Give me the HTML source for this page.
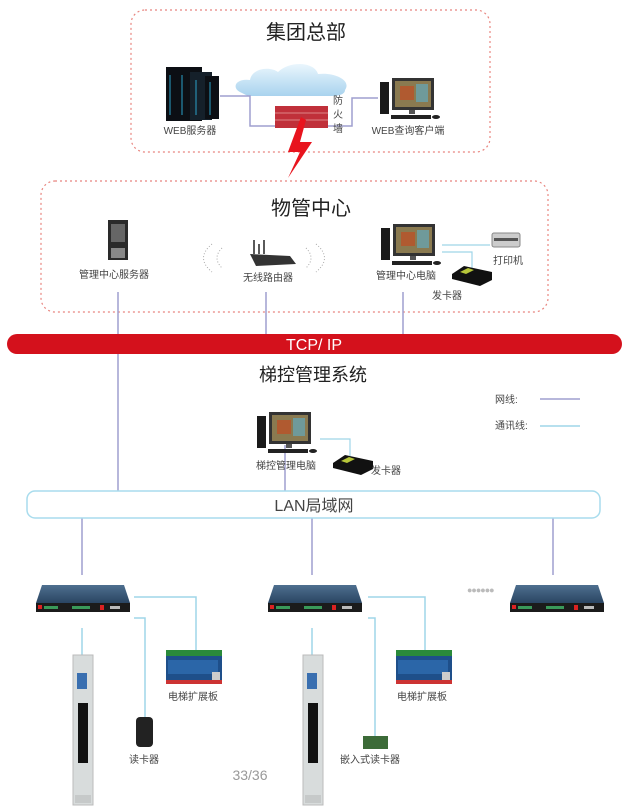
<!DOCTYPE html>
<html><head><meta charset="utf-8"><style>
html,body{margin:0;padding:0;background:#fff;}
svg{display:block;font-family:"Liberation Sans","Noto Sans CJK SC",sans-serif;}
</style></head><body>
<svg width="631" height="812" viewBox="0 0 631 812" xmlns="http://www.w3.org/2000/svg">
<defs>
<linearGradient id="cl" x1="0" y1="0" x2="0" y2="1"><stop offset="0" stop-color="#eaf6fd"/><stop offset="1" stop-color="#a9d3ee"/></linearGradient>
<linearGradient id="ctrl" x1="0" y1="0" x2="0" y2="1"><stop offset="0" stop-color="#4e6f8f"/><stop offset="1" stop-color="#2a4562"/></linearGradient>
<g id="pc">
<rect x="0" y="4" width="9" height="32" fill="#1a1a1a"/>
<rect x="12" y="0" width="42" height="32" fill="#333"/>
<rect x="15" y="3" width="36" height="26" fill="#8a7a50"/>
<rect x="20" y="8" width="14" height="14" fill="#b05a30"/>
<rect x="36" y="6" width="12" height="18" fill="#6f9a9a"/>
<rect x="29" y="32" width="6" height="4" fill="#555"/>
<rect x="11" y="37" width="40" height="4" fill="#222"/>
<ellipse cx="56" cy="39" rx="4" ry="2" fill="#222"/>
</g>
<g id="card">
<polygon points="0,8 12,0 40,6 40,14 28,20 0,13" fill="#111"/>
<polygon points="8,6 16,2 22,4 14,8" fill="#b7c63a"/>
</g>
<g id="ctl">
<polygon points="6,0 88,0 94,18 0,18" fill="url(#ctrl)"/>
<rect x="0" y="18" width="94" height="9" fill="#1b1b1b"/>
<rect x="8" y="21" width="14" height="3" fill="#3a9a5a"/>
<rect x="36" y="21" width="18" height="3" fill="#3a9a5a"/>
<rect x="64" y="20" width="4" height="5" fill="#d22"/>
<rect x="2" y="20" width="4" height="4" fill="#d22"/>
<rect x="74" y="21" width="10" height="3" fill="#bbb"/>
</g>
<g id="board">
<rect x="0" y="0" width="56" height="34" fill="#1e4f8a"/>
<rect x="0" y="0" width="56" height="6" fill="#2a8a3a"/>
<rect x="2" y="10" width="50" height="14" fill="#2b66a8"/>
<rect x="0" y="30" width="56" height="4" fill="#c33"/>
<rect x="46" y="22" width="8" height="8" fill="#ccc"/>
</g>
<g id="panel">
<rect x="0" y="0" width="20" height="150" fill="#d8dcdc" stroke="#bbb"/>
<rect x="4" y="18" width="10" height="16" fill="#3a6fb0"/>
<rect x="5" y="48" width="10" height="60" fill="#111"/>
<rect x="2" y="140" width="16" height="8" fill="#c6c9c9"/>
</g>
</defs>

<rect x="131" y="10" width="359" height="142" rx="14" fill="none" stroke="#e8857f" stroke-width="1.2" stroke-dasharray="2,3"/>
<text x="306" y="39" font-size="20" text-anchor="middle" fill="#222">集团总部</text>
<g fill="#0c0f14"><rect x="166" y="67" width="36" height="54"/><rect x="190" y="72" width="22" height="48" fill="#15202a"/><rect x="205" y="76" width="14" height="43"/></g>
<g stroke="#2aa0c8" stroke-width="1"><line x1="170" y1="75" x2="170" y2="115"/><line x1="182" y1="75" x2="182" y2="115"/><line x1="196" y1="80" x2="196" y2="115"/><line x1="210" y1="82" x2="210" y2="115"/></g>
<path d="M242,93 C230,88 236,78 250,80 C252,68 270,66 278,72 C290,60 315,62 318,74 C334,72 352,80 345,90 C345,94 340,96 330,96 L248,96 Z" fill="url(#cl)"/>
<polyline points="220,96 250,96 250,126 278,126" fill="none" stroke="#9f9fcf" stroke-width="1.5"/>
<polyline points="322,126 352,126 352,98 378,98" fill="none" stroke="#9f9fcf" stroke-width="1.5"/>
<rect x="275" y="106" width="53" height="22" fill="#c0303a"/>
<g stroke="#e9a0a0" stroke-width="0.8"><line x1="275" y1="113" x2="328" y2="113"/><line x1="275" y1="120" x2="328" y2="120"/></g>
<text x="338" y="104" font-size="10" fill="#444" text-anchor="middle">防</text>
<text x="338" y="118" font-size="10" fill="#444" text-anchor="middle">火</text>
<text x="338" y="132" font-size="10" fill="#444" text-anchor="middle">墙</text>
<polygon points="301,117 288,152 300,152 288,178 312,142 300,142 306,120" fill="#e8141e"/>
<use href="#pc" x="380" y="78"/>
<text x="190" y="134" font-size="10" fill="#444" text-anchor="middle">WEB服务器</text>
<text x="408" y="134" font-size="10" fill="#444" text-anchor="middle">WEB查询客户端</text>

<rect x="41" y="181" width="507" height="131" rx="14" fill="none" stroke="#e8857f" stroke-width="1.2" stroke-dasharray="2,3"/>
<text x="311" y="215" font-size="20" text-anchor="middle" fill="#222">物管中心</text>
<rect x="108" y="220" width="20" height="40" fill="#2a2a2a"/><rect x="111" y="224" width="14" height="18" fill="#666"/><rect x="111" y="248" width="14" height="10" fill="#888"/>
<text x="114" y="278" font-size="10" fill="#444" text-anchor="middle">管理中心服务器</text>
<path d="M212,244 Q195,258 212,272 M222,248 Q212,258 222,268 M316,244 Q333,258 316,272 M306,248 Q316,258 306,268" fill="none" stroke="#aaa" stroke-dasharray="1,2"/>
<polygon points="250,254 290,256 296,264 256,266" fill="#333"/>
<g stroke="#222" stroke-width="1.5"><line x1="254" y1="254" x2="254" y2="240"/><line x1="259" y1="254" x2="259" y2="244"/><line x1="264" y1="254" x2="264" y2="240"/></g>
<text x="268" y="281" font-size="10" fill="#444" text-anchor="middle">无线路由器</text>
<use href="#pc" x="381" y="224"/>
<polyline points="442,245 490,245" fill="none" stroke="#9fd5e8" stroke-width="1.2"/>
<polyline points="442,252 472,252 472,268" fill="none" stroke="#9fd5e8" stroke-width="1.2"/>
<rect x="492" y="233" width="28" height="14" rx="2" fill="#ccc" stroke="#888"/><rect x="494" y="238" width="24" height="3" fill="#555"/>
<text x="508" y="264" font-size="10" fill="#444" text-anchor="middle">打印机</text>
<use href="#card" x="452" y="266"/>
<text x="406" y="279" font-size="10" fill="#444" text-anchor="middle">管理中心电脑</text>
<text x="432" y="299" font-size="10" fill="#444">发卡器</text>

<g stroke="#9f9fcf" stroke-width="1.5">
<line x1="118" y1="292" x2="118" y2="491"/>
<line x1="266" y1="292" x2="266" y2="336"/>
<line x1="403" y1="292" x2="403" y2="336"/>
<line x1="285" y1="445" x2="285" y2="491"/>
<line x1="82" y1="518" x2="82" y2="575"/>
<line x1="312" y1="518" x2="312" y2="575"/>
<line x1="553" y1="518" x2="553" y2="575"/>
<line x1="540" y1="399" x2="580" y2="399"/>
</g>

<rect x="7" y="334" width="615" height="20" rx="10" fill="#d4111c"/>
<text x="314" y="350" font-size="16" fill="#fff" text-anchor="middle">TCP/ IP</text>
<text x="313" y="381" font-size="18" fill="#222" text-anchor="middle">梯控管理系统</text>
<text x="495" y="403" font-size="10" fill="#444">网线:</text>
<text x="495" y="429" font-size="10" fill="#444">通讯线:</text>
<line x1="540" y1="426" x2="580" y2="426" stroke="#9fd5e8" stroke-width="1.5"/>

<use href="#pc" x="257" y="412"/>
<polyline points="320,439 350,439 350,456" fill="none" stroke="#9fd5e8" stroke-width="1.2"/>
<use href="#card" x="333" y="455"/>
<text x="286" y="469" font-size="10" fill="#444" text-anchor="middle">梯控管理电脑</text>
<text x="371" y="474" font-size="10" fill="#444">发卡器</text>

<rect x="27" y="491" width="573" height="27" rx="8" fill="#fff" stroke="#a8dced" stroke-width="1.5"/>
<text x="314" y="511" font-size="16" fill="#444" text-anchor="middle">LAN局域网</text>

<use href="#ctl" x="36" y="585"/>
<use href="#ctl" x="268" y="585"/>
<use href="#ctl" x="510" y="585"/>
<text x="467" y="593" font-size="9" fill="#bbb" letter-spacing="-1">●●●●●●</text>

<g fill="none" stroke="#9fd5e8" stroke-width="1.5">
<polyline points="134,597 196,597 196,652"/>
<polyline points="134,618 145,618 145,718"/>
<line x1="82" y1="628" x2="82" y2="655"/>
<polyline points="368,597 425,597 425,652"/>
<polyline points="368,618 375,618 375,736"/>
<line x1="312" y1="628" x2="312" y2="655"/>
</g>
<use href="#board" x="166" y="650"/>
<use href="#board" x="396" y="650"/>
<rect x="136" y="717" width="17" height="30" rx="4" fill="#222"/>
<rect x="363" y="736" width="25" height="13" fill="#3c6b38"/>
<use href="#panel" x="73" y="655"/>
<use href="#panel" x="303" y="655"/>
<text x="193" y="700" font-size="10" fill="#444" text-anchor="middle">电梯扩展板</text>
<text x="422" y="700" font-size="10" fill="#444" text-anchor="middle">电梯扩展板</text>
<text x="144" y="763" font-size="10" fill="#444" text-anchor="middle">读卡器</text>
<text x="370" y="763" font-size="10" fill="#444" text-anchor="middle">嵌入式读卡器</text>
<text x="250" y="780" font-size="14" fill="#999" text-anchor="middle">33/36</text>
</svg>
</body></html>
